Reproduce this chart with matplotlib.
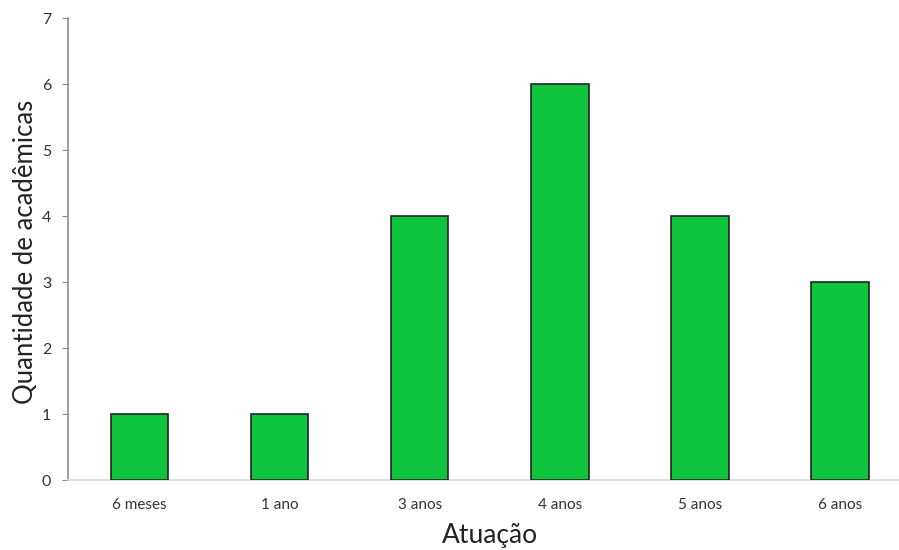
import matplotlib
matplotlib.use("Agg")
import matplotlib.pyplot as plt

categorias = ["6 meses", "1 ano", "3 anos", "4 anos", "5 anos", "6 anos"]
quantidade = [1, 1, 4, 6, 4, 3]

plt.rcParams['font.family'] = ['Lato', 'DejaVu Sans']

fig = plt.figure(figsize=(8.99, 5.5), dpi=100)
ax = fig.add_axes([68/899, 70/550, 1 - 68/899, 462/550])

x = list(range(len(categorias)))
ax.bar(x, quantidade, width=0.41, color='#0EC43C', edgecolor='#222222', linewidth=1.2, zorder=3)

ax.set_xlim(-0.51, 5.42)
ax.set_ylim(0, 7)
ax.set_yticks(range(0, 8))
ax.set_xticks(x)
ax.set_xticklabels(categorias, fontsize=11, color='#333333')
ax.tick_params(axis='y', labelsize=11.5, colors='#333333', length=4, color='#8c8c8c', pad=8)
ax.tick_params(axis='x', length=0, pad=13)

for s in ['top', 'right']:
    ax.spines[s].set_visible(False)
ax.spines['left'].set_color('#8c8c8c')
ax.spines['bottom'].set_color('#d9d9d9')
ax.spines['left'].set_linewidth(1.2)
ax.spines['bottom'].set_linewidth(1.2)

ax.set_ylabel("Quantidade de acadêmicas", fontsize=18.5, color='#222222', labelpad=3)
ax.yaxis.label.set_y(0.493)
ax.set_xlabel("Atuação", fontsize=19, color='#222222', labelpad=8)
ax.xaxis.label.set_x(0.508)

fig.savefig("out.png", dpi=100)
